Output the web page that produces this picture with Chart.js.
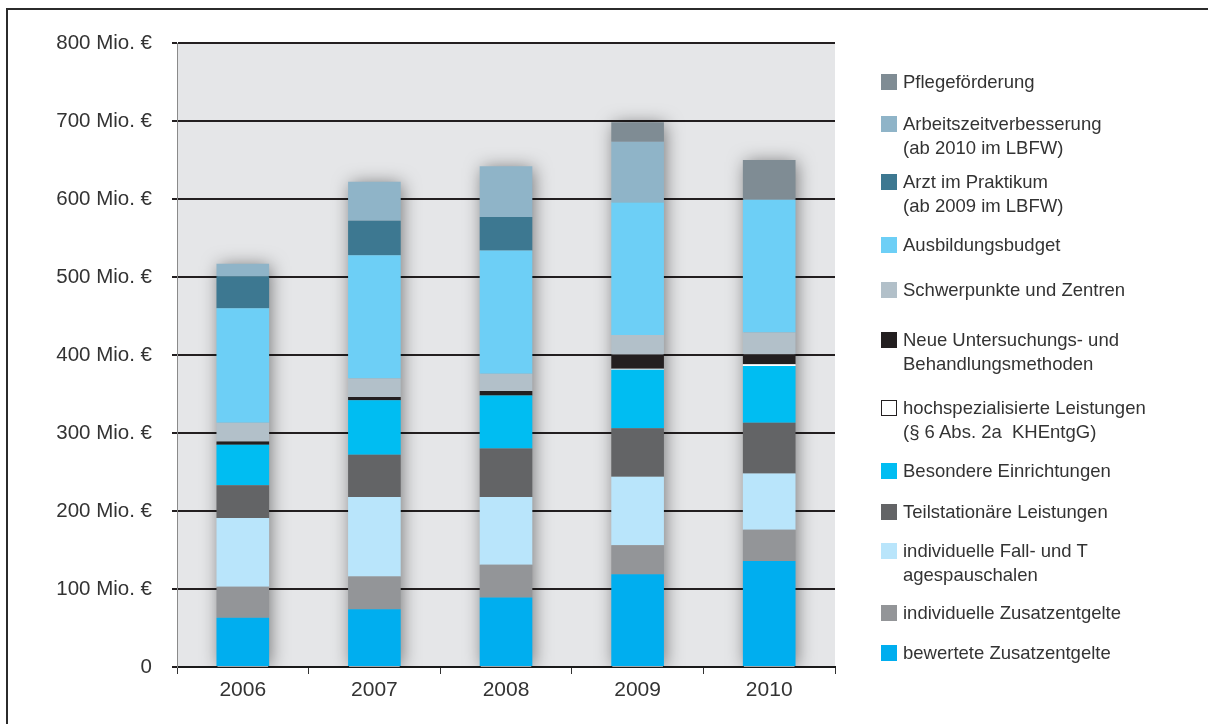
<!DOCTYPE html>
<html>
<head>
<meta charset="utf-8">
<script src="https://cdn.jsdelivr.net/npm/chart.js@4"></script>
<style>
  body { margin: 0; background: #fff; }
  #wrap { position: relative; width: 1208px; height: 724px; overflow: hidden; font-family: "Liberation Sans", Arial, sans-serif; }
  #frame { position: absolute; left: 6px; top: 8px; width: 1400px; height: 900px; border-top: 2px solid #2b2b2b; border-left: 2px solid #2b2b2b; }
  #chartBox { position: absolute; left: 0; top: 0; width: 1208px; height: 724px; }
  #legend { position: absolute; left: 881px; top: 70px; color: #333; font-size: 18.5px; line-height: 24px; }
  .item { display: flex; align-items: flex-start; margin-bottom: 16px; }
  .item:nth-child(1) { margin-bottom: 18px; }
  .item:nth-child(2) { margin-bottom: 10px; }
  .item:nth-child(3) { margin-bottom: 15px; }
  .item:nth-child(4) { margin-bottom: 21px; }
  .item:nth-child(5) { margin-bottom: 26px; }
  .item:nth-child(6) { margin-bottom: 20px; }
  .item:nth-child(7) { margin-bottom: 15px; }
  .item:nth-child(8) { margin-bottom: 17px; }
  .item:nth-child(9) { margin-bottom: 15px; }
  .item:nth-child(10) { margin-bottom: 14px; }
  .sw { width: 16px; height: 16px; margin-top: 4px; margin-right: 6px; flex: none; box-sizing: border-box; }
</style>
</head>
<body>
<div id="wrap">
  <div id="frame"></div>
  <div id="chartBox"><canvas id="barChart"></canvas></div>
  <div id="legend"></div>
</div>
<script>
// Jahre und Beträge (Mio. €), Reihen von unten nach oben gestapelt
var years = ['2006', '2007', '2008', '2009', '2010'];
var yTicks = [0, 100, 200, 300, 400, 500, 600, 700, 800];

var bewertete      = [63, 74, 89, 119, 136];
var indivZusatz    = [40, 42, 42, 37, 40];
var fallTages      = [88, 102, 87, 88, 72];
var teilstationaer = [42, 54, 62, 62, 65];
var besondere      = [52, 70, 68, 75, 73];
var hochspez       = [0, 0, 0, 1.5, 2];
var neueMethoden   = [4, 4, 6, 18, 13];
var schwerpunkte   = [24, 24, 22, 25, 28];
var ausbildung     = [147, 158, 158, 170, 170];
var arztPraktikum  = [41, 44, 43, 0, 0];
var arbeitszeit    = [16, 50, 65, 78, 0];
var pflege         = [0, 0, 0, 25, 51];

var series = [
    { label: ['bewertete Zusatzentgelte'], data: bewertete, color: '#00aeef' },
    { label: ['individuelle Zusatzentgelte'], data: indivZusatz, color: '#939598' },
    { label: ['individuelle Fall- und T', 'agespauschalen'], data: fallTages, color: '#b9e5fb' },
    { label: ['Teilstationäre Leistungen'], data: teilstationaer, color: '#636466' },
    { label: ['Besondere Einrichtungen'], data: besondere, color: '#00bdf2' },
    { label: ['hochspezialisierte Leistungen', '(§ 6 Abs. 2a\u00a0 KHEntgG)'], data: hochspez, color: '#ffffff' },
    { label: ['Neue Untersuchungs- und', 'Behandlungsmethoden'], data: neueMethoden, color: '#231f20' },
    { label: ['Schwerpunkte und Zentren'], data: schwerpunkte, color: '#b2c0c9' },
    { label: ['Ausbildungsbudget'], data: ausbildung, color: '#6dcff6' },
    { label: ['Arzt im Praktikum', '(ab 2009 im LBFW)'], data: arztPraktikum, color: '#3d7891' },
    { label: ['Arbeitszeitverbesserung', '(ab 2010 im LBFW)'], data: arbeitszeit, color: '#8fb4c8' },
    { label: ['Pflegeförderung'], data: pflege, color: '#7f8c94' }
];

// grauer Hintergrund der Zeichenfläche
var plotBackground = {
    id: 'plotBackground',
    beforeDraw: function (chart) {
        var a = chart.chartArea, ctx = chart.ctx;
        ctx.save();
        ctx.fillStyle = '#e5e6e8';
        ctx.fillRect(a.left, a.top, a.right - a.left, a.bottom - a.top);
        ctx.restore();
    }
};

// weicher Schatten hinter jeder Säule
var barShadow = {
    id: 'barShadow',
    beforeDatasetsDraw: function (chart) {
        var ctx = chart.ctx, y = chart.scales.y, a = chart.chartArea;
        var meta = chart.getDatasetMeta(0);
        ctx.save();
        ctx.beginPath();
        ctx.rect(a.left, a.top, a.right - a.left, a.bottom - a.top);
        ctx.clip();
        meta.data.forEach(function (bar, i) {
            var total = 0;
            series.forEach(function (s) { total += s.data[i]; });
            var top = y.getPixelForValue(total), bottom = y.getPixelForValue(0);
            ctx.shadowColor = 'rgba(0,0,0,0.5)';
            ctx.shadowBlur = 18;
            ctx.shadowOffsetX = 2;
            ctx.fillStyle = '#a0a1a3';
            ctx.fillRect(bar.x - bar.width / 2 + 1, top + 2, bar.width - 2, bottom - top - 2);
        });
        ctx.restore();
    }
};

var ctx = document.getElementById('barChart').getContext('2d');
new Chart(ctx, {
    type: 'bar',
    data: {
        labels: years,
        datasets: series.map(function (s) {
            return {
                label: s.label.join(' '),
                data: s.data,
                backgroundColor: s.color,
                borderWidth: 0,
                barPercentage: 0.4,
                categoryPercentage: 1
            };
        })
    },
    options: {
        responsive: true,
        maintainAspectRatio: false,
        animation: false,
        layout: { padding: { left: 0, top: 43, right: 373, bottom: 0 } },
        plugins: { legend: { display: false }, tooltip: { enabled: false } },
        scales: {
            x: {
                stacked: true,
                afterFit: function (scale) { scale.height = 57; },
                border: { display: true, color: '#1a1a1a', width: 2 },
                grid: { display: true, drawOnChartArea: false, drawTicks: true, tickLength: 7, color: '#333', lineWidth: 1, offset: true },
                ticks: { color: '#333', padding: 4, font: { family: 'Liberation Sans', size: 21 } }
            },
            y: {
                stacked: true,
                min: 0,
                max: 800,
                afterFit: function (scale) { scale.width = 177; },
                afterBuildTicks: function (scale) { scale.ticks = yTicks.map(function (v) { return { value: v }; }); },
                border: { display: true, color: '#8a8a8a', width: 1 },
                grid: { color: '#231f20', lineWidth: 2, tickLength: 5 },
                ticks: {
                    color: '#333',
                    padding: 20,
                    font: { family: 'Liberation Sans', size: 20.5 },
                    callback: function (v) { return v === 0 ? '0' : v + ' Mio. €'; }
                }
            }
        }
    },
    plugins: [plotBackground, barShadow]
});

// Legende rechts, oberste Reihe zuerst
var legend = document.getElementById('legend');
series.slice().reverse().forEach(function (s) {
    var item = document.createElement('div');
    item.className = 'item';
    var sw = document.createElement('div');
    sw.className = 'sw';
    sw.style.background = s.color;
    if (s.color === '#ffffff') sw.style.border = '1px solid #231f20';
    var txt = document.createElement('div');
    txt.innerHTML = s.label.join('<br>');
    item.appendChild(sw);
    item.appendChild(txt);
    legend.appendChild(item);
});
</script>
</body>
</html>
